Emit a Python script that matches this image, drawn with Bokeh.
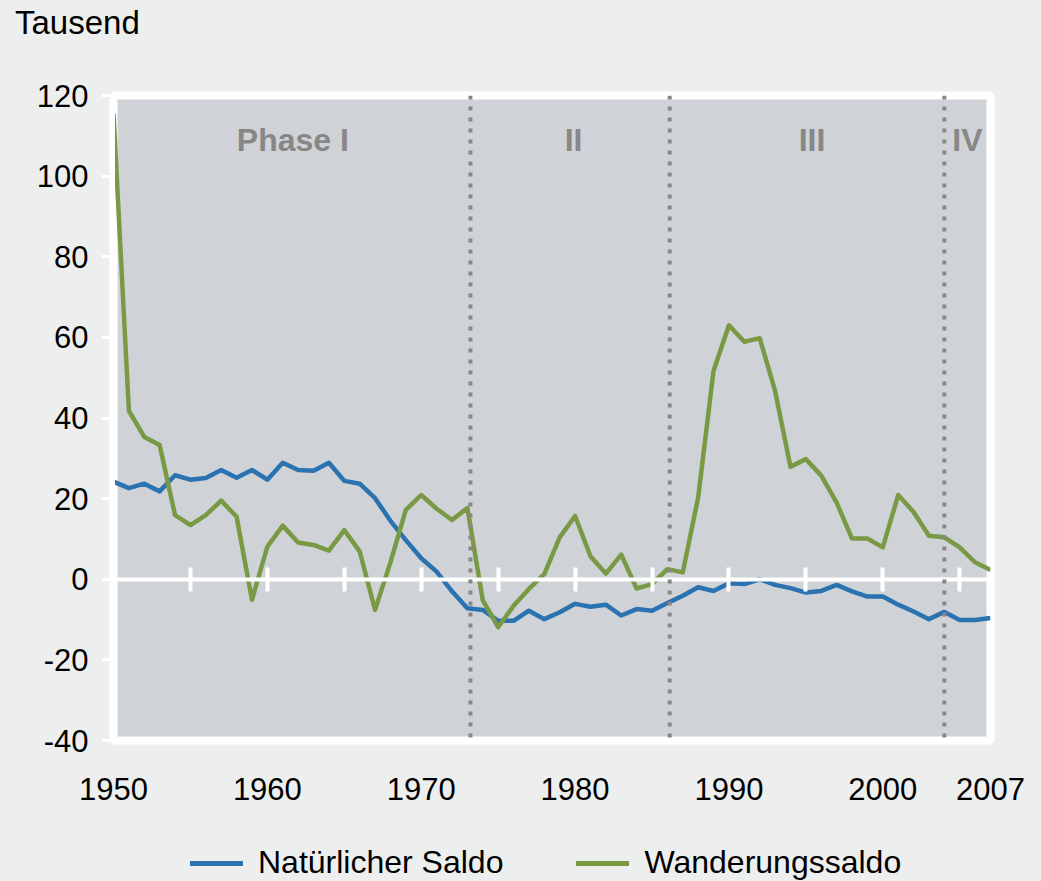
from bokeh.plotting import figure
from bokeh.layouts import column
from bokeh.models import Range1d, LinearAxis, FixedTicker, Span, Label, Legend, LegendItem, Div
from bokeh.embed import file_html
from bokeh.resources import INLINE

# ---------------- data ----------------
years = list(range(1950, 2008))
natuerlicher_saldo = [
    24.2, 22.6, 23.7, 21.8, 25.8, 24.7, 25.1, 27.1, 25.2, 27.1,
    24.7, 28.9, 27.1, 26.9, 28.9, 24.4, 23.7, 20.1, 14.5, 9.7,
    5.2, 1.9, -3.0, -7.2, -7.6, -10.3, -10.3, -7.8, -9.9, -8.2,
    -6.1, -6.8, -6.3, -9.0, -7.4, -7.8, -5.9, -4.1, -2.0, -2.9,
    -1.0, -1.2, 0.0, -1.4, -2.2, -3.3, -2.9, -1.4, -3.0, -4.3,
    -4.3, -6.3, -8.0, -9.9, -8.1, -10.1, -10.1, -9.6,
]
wanderungssaldo = [
    115.5, 41.8, 35.3, 33.3, 15.9, 13.4, 15.9, 19.5, 15.5, -5.1,
    8.1, 13.3, 9.1, 8.5, 7.1, 12.2, 6.9, -7.6, 4.2, 17.2,
    20.9, 17.5, 14.7, 17.7, -5.2, -11.9, -6.6, -2.4, 1.3, 10.4,
    15.7, 5.7, 1.4, 6.1, -2.3, -1.2, 2.5, 1.7, 20.3, 51.7,
    63.0, 58.9, 59.8, 46.7, 27.9, 29.8, 25.7, 19.0, 10.1, 10.1,
    7.9, 20.9, 16.7, 10.8, 10.4, 7.9, 4.2, 2.3,
]
series_names = ["Natürlicher Saldo", "Wanderungssaldo"]
x_tick_labels = [1950, 1960, 1970, 1980, 1990, 2000, 2007]
zero_ticks = [1955, 1960, 1965, 1970, 1975, 1980, 1985, 1990, 1995, 2000, 2005]
y_ticks = [-40, -20, 0, 20, 40, 60, 80, 100, 120]
phase_breaks = [1973.2, 1986.15, 2004.0]
phase_names = ["Phase I", "II", "III", "IV"]
phase_label_x = [1961.66, 1979.9, 1995.4, 2005.5]
unit_label = "Tausend"

# ---------------- style ----------------
FONT = "Liberation Sans"
BG = "#EDEFEE"
PLOT_BG = "#CFD3D7"
BLUE = "#2A72B0"
GREEN = "#7A9945"
GREY = "#878787"

# unit text strip on top
top = Div(
    text=unit_label, width=1041, height=50,
    styles={"font-family": FONT, "font-size": "33px", "line-height": "33px",
            "color": "black", "background-color": BG},
    stylesheets=[":host { padding: 0; margin: 0; } div { padding-left: 15px; padding-top: 6px; }"],
)

p = figure(
    width=1041, height=770,
    x_range=Range1d(1950, 2007), y_range=Range1d(-40, 120),
    output_backend="svg", toolbar_location=None,
    min_border_left=113, min_border_right=51,
    min_border_top=45, min_border_bottom=80,
    x_axis_type=None, y_axis_type=None,
)
p.background_fill_color = PLOT_BG
p.border_fill_color = BG
p.outline_line_color = "white"
p.outline_line_width = 8

# bottom axis (labels only)
xax = LinearAxis(ticker=FixedTicker(ticks=x_tick_labels))
xax.axis_line_color = None
xax.major_tick_line_color = None
xax.minor_tick_line_color = None
xax.major_tick_out = 0
xax.major_tick_in = 0
xax.major_label_standoff = 37
xax.major_label_text_font = FONT
xax.major_label_text_font_size = "31px"
xax.major_label_text_color = "black"
p.add_layout(xax, "below")

# zero line with white crossing ticks
zax = LinearAxis(ticker=FixedTicker(ticks=zero_ticks), fixed_location=0)
zax.axis_line_color = "white"
zax.axis_line_width = 4
zax.major_tick_line_color = "white"
zax.major_tick_line_width = 4
zax.major_tick_in = 12
zax.major_tick_out = 12
zax.minor_tick_line_color = None
zax.major_label_text_font_size = "0px"
zax.major_label_text_alpha = 0
zax.major_label_standoff = 0
p.add_layout(zax, "below")

# left axis
yax = LinearAxis(ticker=FixedTicker(ticks=y_ticks))
yax.axis_line_color = "white"
yax.axis_line_width = 3
yax.major_tick_line_color = "white"
yax.major_tick_line_width = 3
yax.major_tick_out = 12
yax.major_tick_in = 0
yax.minor_tick_line_color = None
yax.major_label_standoff = 13
yax.major_label_text_font = FONT
yax.major_label_text_font_size = "31px"
yax.major_label_text_color = "black"
yax.major_label_overrides = {t: str(t) for t in y_ticks}
p.add_layout(yax, "left")

p.ygrid.ticker = FixedTicker(ticks=y_ticks)
p.ygrid.grid_line_color = "white"
p.ygrid.grid_line_width = 3
p.xgrid.grid_line_color = None

r1 = p.line(years, natuerlicher_saldo, line_color=BLUE, line_width=4.5, line_join="round")
r2 = p.line(years, wanderungssaldo, line_color=GREEN, line_width=4.5, line_join="round")

for xb in phase_breaks:
    p.add_layout(Span(location=xb, dimension="height", line_color=GREY,
                      line_width=4, line_dash="4 7"))

for name, xl in zip(phase_names, phase_label_x):
    p.add_layout(Label(x=xl, y=108.9, text=name, text_align="center",
                       text_baseline="alphabetic", text_font=FONT,
                       text_font_size="32px", text_font_style="bold",
                       text_color=GREY))

# legend strip below the chart
pl = figure(
    width=1041, height=61, x_range=Range1d(0, 1), y_range=Range1d(0, 1),
    output_backend="svg", toolbar_location=None,
    min_border_left=0, min_border_right=0, min_border_top=0, min_border_bottom=0,
    x_axis_type=None, y_axis_type=None,
)
pl.background_fill_color = BG
pl.border_fill_color = BG
pl.outline_line_color = None
pl.xgrid.visible = False
pl.ygrid.visible = False
# legend proxies kept outside the visible range of the strip
l1 = pl.line([-5, -4], [-5, -4], line_color=BLUE, line_width=5, line_cap="round")
l2 = pl.line([-5, -4], [-5, -4], line_color=GREEN, line_width=5, line_cap="round")

legend = Legend(
    items=[LegendItem(label=series_names[0], renderers=[l1]),
           LegendItem(label=series_names[1], renderers=[l2])],
    orientation="horizontal", location=(77, 0),
    glyph_width=53, glyph_height=30, label_standoff=15, spacing=73,
    padding=0, margin=0,
    label_text_font=FONT, label_text_font_size="32px", label_text_color="black",
    border_line_color=None, background_fill_alpha=0,
)
pl.add_layout(legend, "center")

layout = column(top, p, pl, spacing=0)
layout.styles = {"background-color": BG}

html = file_html(layout, INLINE)
html = html.replace("</head>", "<style>html,body{margin:0;padding:0;background:%s;}</style></head>" % BG, 1)
open("out.html", "w").write(html)
